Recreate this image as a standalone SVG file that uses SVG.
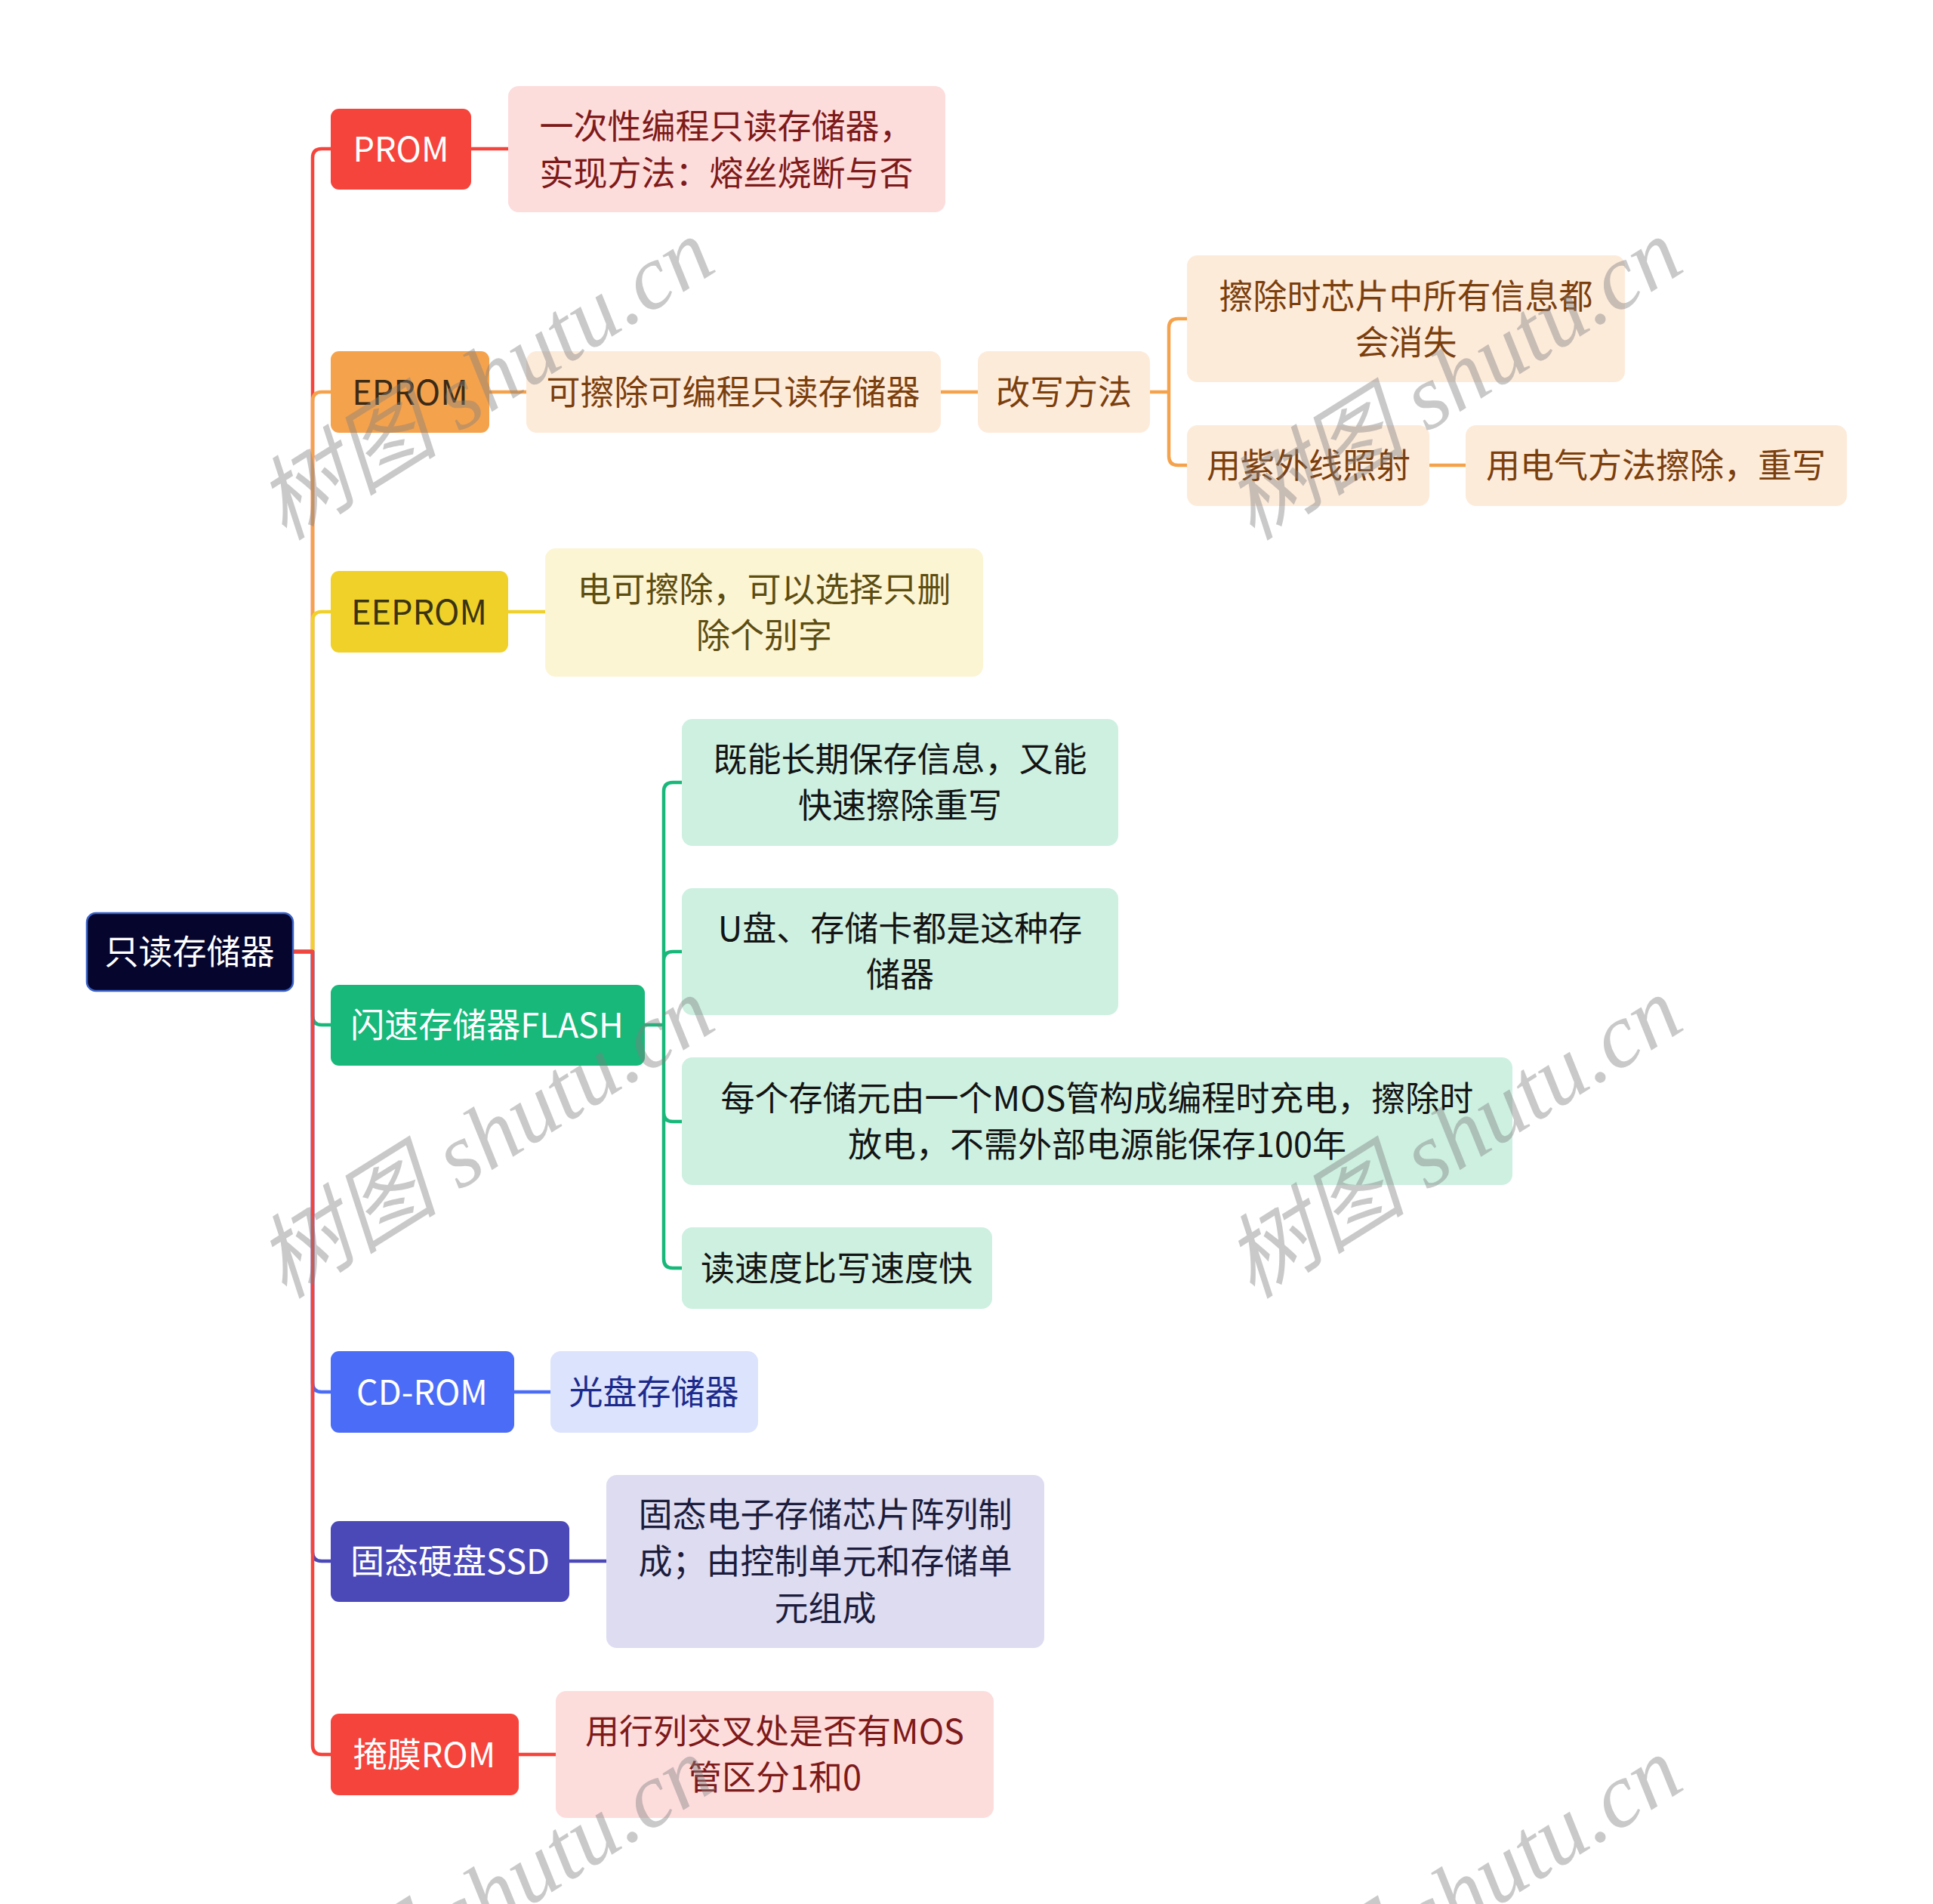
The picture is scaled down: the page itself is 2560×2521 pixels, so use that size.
<svg xmlns="http://www.w3.org/2000/svg" width="2560" height="2521" viewBox="0 0 2560 2521">
<style>
text{font-family:"Noto Sans CJK SC","Noto Sans",sans-serif;font-size:45px;text-anchor:middle;dominant-baseline:central}
.c{fill:none;stroke-width:4.5;stroke-linecap:round;stroke-linejoin:round}
.wm{font-family:"Liberation Serif","Noto Sans CJK SC",serif;font-style:italic;font-size:121px;fill:#808080;opacity:0.42}
.w{fill:#fff}
</style>
<rect width="2560" height="2521" fill="#fff"/>
<g id="connectors">
<path class="c" stroke="#f5443c" d="M389,1260 H414 V209 Q414,197 426,197 H438"/>
<path class="c" stroke="#f5a24c" d="M389,1260 H414 V531 Q414,519 426,519 H438"/>
<path class="c" stroke="#f0d12a" d="M389,1260 H414 V822 Q414,810 426,810 H438"/>
<path class="c" stroke="#17b87a" d="M389,1260 H414 V1345 Q414,1357 426,1357 H438"/>
<path class="c" stroke="#4a6cf7" d="M389,1260 H414 V1831 Q414,1843 426,1843 H438"/>
<path class="c" stroke="#4b48b8" d="M389,1260 H414 V2055 Q414,2067 426,2067 H438"/>
<path class="c" stroke="#f5443c" d="M389,1260 H414 V2311 Q414,2323 426,2323 H438"/>
<path class="c" stroke="#f5443c" d="M624,197 H673"/>
<path class="c" stroke="#f5a24c" d="M648,519 H697 M1246,519 H1295"/>
<path class="c" stroke="#f5a24c" d="M1523,519 H1548 V434 Q1548,422 1560,422 H1572 M1548,519 V604 Q1548,616 1560,616 H1572 M1894,616 H1941"/>
<path class="c" stroke="#f0d12a" d="M673,810 H722"/>
<path class="c" stroke="#17b87a" d="M854,1357 H879 V1048 Q879,1036 891,1036 H903 M879,1357 V1272 Q879,1260 891,1260 H903 M879,1357 V1473 Q879,1485 891,1485 H903 M879,1357 V1667 Q879,1679 891,1679 H903"/>
<path class="c" stroke="#4a6cf7" d="M681,1843 H729"/>
<path class="c" stroke="#4b48b8" d="M754,2067 H803"/>
<path class="c" stroke="#f5443c" d="M687,2323 H736"/>
</g>
<g id="root">
<rect x="115" y="1209" width="273" height="103" rx="12" fill="#05052e" stroke="#3b64c8" stroke-width="2.5"/>
<text x="251" y="1257" class="w">只读存储器</text>
</g>
<g id="prom">
<rect x="438" y="144" width="186" height="107" rx="11" fill="#f5443c"/>
<text x="531" y="194" class="w">PROM</text>
</g>
<g id="prom-desc">
<rect x="673" y="114" width="579" height="167" rx="14" fill="#fddcdc"/>
<text x="962" y="164" fill="#7d1a1a">一次性编程只读存储器，</text>
<text x="962" y="226" fill="#7d1a1a">实现方法：熔丝烧断与否</text>
</g>
<g id="eprom">
<rect x="438" y="465" width="210" height="108" rx="11" fill="#f5a24c"/>
<text x="543" y="516" fill="#3b2a17">EPROM</text>
</g>
<g id="eprom-desc">
<rect x="697" y="465" width="549" height="108" rx="14" fill="#fdebda"/>
<text x="971" y="516" fill="#7b3f0e">可擦除可编程只读存储器</text>
</g>
<g id="eprom-method">
<rect x="1295" y="465" width="228" height="108" rx="14" fill="#fdebda"/>
<text x="1409" y="516" fill="#7b3f0e">改写方法</text>
</g>
<g id="eprom-m1">
<rect x="1572" y="338" width="580" height="168" rx="14" fill="#fdebda"/>
<text x="1862" y="389" fill="#7b3f0e">擦除时芯片中所有信息都</text>
<text x="1862" y="450" fill="#7b3f0e">会消失</text>
</g>
<g id="eprom-m2">
<rect x="1572" y="563" width="321" height="107" rx="14" fill="#fdebda"/>
<text x="1733" y="613" fill="#7b3f0e">用紫外线照射</text>
</g>
<g id="eprom-m3">
<rect x="1941" y="563" width="505" height="107" rx="14" fill="#fdebda"/>
<text x="2193" y="613" fill="#7b3f0e">用电气方法擦除，重写</text>
</g>
<g id="eeprom">
<rect x="438" y="756" width="235" height="108" rx="11" fill="#f0d12a"/>
<text x="555" y="807" fill="#3a3412">EEPROM</text>
</g>
<g id="eeprom-desc">
<rect x="722" y="726" width="580" height="170" rx="14" fill="#fcf5d4"/>
<text x="1012" y="777" fill="#5c4d12">电可擦除，可以选择只删</text>
<text x="1012" y="838" fill="#5c4d12">除个别字</text>
</g>
<g id="flash">
<rect x="438" y="1304" width="416" height="107" rx="11" fill="#17b87a"/>
<text x="645" y="1354" class="w">闪速存储器FLASH</text>
</g>
<g id="flash-1">
<rect x="903" y="952" width="578" height="168" rx="14" fill="#cdf0e1"/>
<text x="1192" y="1002" fill="#141414">既能长期保存信息，又能</text>
<text x="1192" y="1063" fill="#141414">快速擦除重写</text>
</g>
<g id="flash-2">
<rect x="903" y="1176" width="578" height="168" rx="14" fill="#cdf0e1"/>
<text x="1192" y="1226" fill="#141414">U盘、存储卡都是这种存</text>
<text x="1192" y="1287" fill="#141414">储器</text>
</g>
<g id="flash-3">
<rect x="903" y="1400" width="1100" height="169" rx="14" fill="#cdf0e1"/>
<text x="1453" y="1451" fill="#141414">每个存储元由一个MOS管构成编程时充电，擦除时</text>
<text x="1453" y="1512" fill="#141414">放电，不需外部电源能保存100年</text>
</g>
<g id="flash-4">
<rect x="903" y="1625" width="411" height="108" rx="14" fill="#cdf0e1"/>
<text x="1108" y="1676" fill="#141414">读速度比写速度快</text>
</g>
<g id="cdrom">
<rect x="438" y="1789" width="243" height="108" rx="11" fill="#4a6cf7"/>
<text x="559" y="1840" class="w">CD-ROM</text>
</g>
<g id="cdrom-desc">
<rect x="729" y="1789" width="275" height="108" rx="14" fill="#dce3fc"/>
<text x="866" y="1840" fill="#1c2a8c">光盘存储器</text>
</g>
<g id="ssd">
<rect x="438" y="2014" width="316" height="107" rx="11" fill="#4b48b8"/>
<text x="596" y="2064" class="w">固态硬盘SSD</text>
</g>
<g id="ssd-desc">
<rect x="803" y="1953" width="580" height="229" rx="14" fill="#dddcf1"/>
<text x="1093" y="2002" fill="#1c1c3c">固态电子存储芯片阵列制</text>
<text x="1093" y="2064" fill="#1c1c3c">成；由控制单元和存储单</text>
<text x="1093" y="2126" fill="#1c1c3c">元组成</text>
</g>
<g id="mask">
<rect x="438" y="2269" width="249" height="108" rx="11" fill="#f5443c"/>
<text x="562" y="2320" class="w">掩膜ROM</text>
</g>
<g id="mask-desc">
<rect x="736" y="2239" width="580" height="168" rx="14" fill="#fddcdc"/>
<text x="1026" y="2289" fill="#7d1a1a">用行列交叉处是否有MOS</text>
<text x="1026" y="2350" fill="#7d1a1a">管区分1和0</text>
</g>
<g id="watermarks">
<text class="wm" transform="translate(643,502) rotate(-32)">树图 shutu.cn</text>
<text class="wm" transform="translate(1925,502) rotate(-32)">树图 shutu.cn</text>
<text class="wm" transform="translate(643,1506) rotate(-32)">树图 shutu.cn</text>
<text class="wm" transform="translate(1925,1506) rotate(-32)">树图 shutu.cn</text>
<text class="wm" transform="translate(643,2512) rotate(-32)">树图 shutu.cn</text>
<text class="wm" transform="translate(1925,2512) rotate(-32)">树图 shutu.cn</text>
</g>
</svg>
